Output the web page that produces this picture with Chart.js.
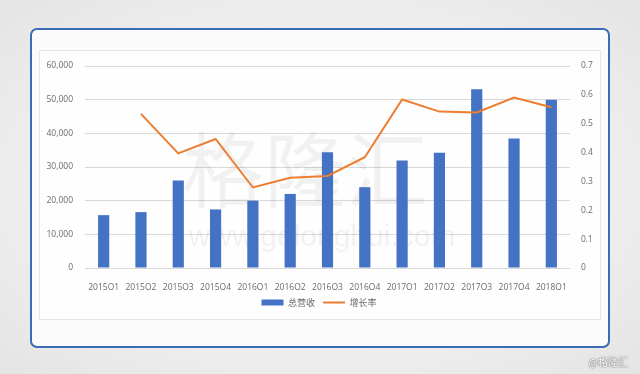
<!DOCTYPE html>
<html>
<head>
<meta charset="utf-8">
<script src="https://cdn.jsdelivr.net/npm/chart.js@4"></script>
<style>
  html, body { margin: 0; padding: 0; }
  body {
    width: 640px; height: 374px; position: relative; overflow: hidden;
    background: radial-gradient(ellipse at center, #f6f6f6 0%, #ececec 70%, #e4e4e4 100%);
  }
  #frame {
    position: absolute; left: 30px; top: 28px; width: 576px; height: 316px;
    border: 2px solid #3a6cb8; border-radius: 7px; background: #fbfbfb;
  }
  #panel {
    position: absolute; left: 39px; top: 50px; width: 560px; height: 268px;
    border: 1px solid #e6e6e6; background: #fefefe;
  }
  #chart { position: absolute; left: 0; top: 0; }
  #mark {
    position: absolute; right: 12px; top: 354px; font: 10px "Noto Sans CJK SC", sans-serif;
    color: #ffffff; text-shadow: 0 0 2px #777, 0 0 1px #555;
  }
</style>
</head>
<body>
<div id="frame"></div>
<div id="panel"></div>
<canvas id="chart" width="640" height="374"></canvas>
<div id="mark">@格隆汇</div>
<script>
const quarters = ['2015Q1', '2015Q2', '2015Q3', '2015Q4', '2016Q1', '2016Q2', '2016Q3',
                  '2016Q4', '2017Q1', '2017Q2', '2017Q3', '2017Q4', '2018Q1'];
const revenue = [15700, 16600, 26000, 17400, 20000, 22000, 34400,
                 24000, 31900, 34200, 53100, 38500, 50000];
const growth = [null, 0.534, 0.397, 0.447, 0.279, 0.313, 0.319,
                0.384, 0.584, 0.542, 0.539, 0.591, 0.557];
const leftTicks = [0, 10000, 20000, 30000, 40000, 50000, 60000];
const rightTicks = ['0', '0.1', '0.2', '0.3', '0.4', '0.5', '0.6', '0.7'];

const tickFont = { family: 'Open Sans', size: 8.5 };
const tickColor = '#6b6b6b';

const watermark = {
    id: 'watermark',
    beforeDatasetsDraw(chart) {
        const c = chart.ctx;
        c.save();
        c.fillStyle = 'rgba(0,0,0,0.05)';
        c.textAlign = 'center';
        c.textBaseline = 'middle';
        c.font = '82px "Noto Sans CJK SC"';
        c.fillText('格隆汇', 305, 170);
        c.font = '30px "Liberation Sans"';
        c.fillText('www.gelonghui.com', 322, 238);
        c.restore();
    }
};

const ctx = document.getElementById('chart').getContext('2d');
const chart = new Chart(ctx, {
    data: {
        labels: quarters,
        datasets: [{
            type: 'line',
            label: '增长率',
            data: growth,
            yAxisID: 'y1',
            borderColor: '#ed7d31',
            backgroundColor: '#ed7d31',
            borderWidth: 2,
            pointRadius: 0,
            pointStyle: 'line',
            tension: 0,
            order: 0
        }, {
            type: 'bar',
            label: '总营收',
            data: revenue,
            yAxisID: 'y',
            backgroundColor: '#4472c4',
            pointStyle: 'rect',
            barPercentage: 0.6,
            categoryPercentage: 0.5,
            order: 1
        }]
    },
    options: {
        responsive: false,
        animation: false,
        layout: { padding: { left: 38, right: 40, top: 66, bottom: 57 } },
        plugins: {
            tooltip: { enabled: false },
            legend: {
                position: 'bottom',
                reverse: true,
                labels: {
                    color: '#6b6b6b',
                    font: { family: 'Noto Sans CJK SC', size: 9 },
                    usePointStyle: true,
                    pointStyleWidth: 22,
                    boxHeight: 6,
                    padding: 8
                }
            }
        },
        scales: {
            x: {
                grid: { display: false },
                border: { display: false },
                ticks: { color: tickColor, font: tickFont, maxRotation: 0, autoSkip: false, padding: 6 },
                afterFit: s => { s.height = 22; }
            },
            y: {
                position: 'left',
                min: 0,
                max: 60000,
                afterBuildTicks: s => { s.ticks = leftTicks.map(v => ({ value: v })); },
                grid: { color: '#d9d9d9', drawTicks: false },
                border: { display: false },
                ticks: {
                    color: tickColor, font: tickFont, padding: 12,
                    callback: v => v.toLocaleString('en-US')
                },
                afterFit: s => { s.width = 47; }
            },
            y1: {
                position: 'right',
                min: 0,
                max: 0.7,
                afterBuildTicks: s => { s.ticks = rightTicks.map(v => ({ value: Number(v) })); },
                grid: { display: false },
                border: { display: false },
                ticks: { color: tickColor, font: tickFont, padding: 3, callback: (v, i) => rightTicks[i] },
                afterFit: s => { s.width = 30; }
            }
        }
    },
    plugins: [watermark]
});
</script>
</body>
</html>
